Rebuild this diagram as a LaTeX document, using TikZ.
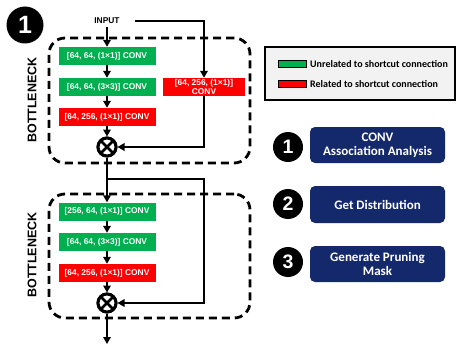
\documentclass[tikz,border=0pt]{standalone}
\usepackage{fontspec}
\setmainfont{Liberation Sans}
\newfontfamily\carlito{Carlito}
\usetikzlibrary{arrows.meta,calc}
\definecolor{cgreen}{HTML}{00B050}
\definecolor{cred}{HTML}{FF0000}
\definecolor{navy}{HTML}{14296B}
\definecolor{lblue}{HTML}{4472C4}
\definecolor{lgray}{HTML}{F2F2F2}
\begin{document}
\begin{tikzpicture}[x=1pt,y=-1pt,
  conv/.style={minimum width=97pt, minimum height=18pt, inner sep=0pt, text=white,
    font=\fontsize{8.4}{9.5}\selectfont\bfseries, align=center},
  gbox/.style={conv, fill=cgreen},
  rbox/.style={conv, fill=cred},
  line/.style={line width=2pt},
  arr/.style={line, -{Triangle[length=7pt,width=7.5pt]}},
  dashbox/.style={draw, line width=2.8pt, dash pattern=on 8pt off 5pt, rounded corners=16pt,
    minimum width=201pt, inner sep=0pt},
  otimes/.style={circle, draw, line width=3pt, minimum size=18pt, inner sep=0pt, fill=white,
    path picture={\draw[line width=2.6pt]
      (path picture bounding box.south west) -- (path picture bounding box.north east)
      (path picture bounding box.north west) -- (path picture bounding box.south east);}},
  vlabel/.style={rotate=90, font=\fontsize{12.5}{14}\selectfont\bfseries},
  numc/.style={circle, fill=black, text=white, inner sep=0pt},
  bluebox/.style={fill=navy, rounded corners=5pt, minimum width=135pt, inner sep=0pt,
    text=white, align=center, font=\carlito\fontsize{13}{14}\selectfont\bfseries},
  blockarrow/.style={draw=none, line width=8pt, lblue, -{Triangle[length=10pt,width=17pt]}},
  legtext/.style={anchor=west, inner sep=0pt, font=\carlito\fontsize{10}{11}\selectfont\bfseries}
]
\useasboundingbox (0,0) rectangle (458,345);

% big number
\node[numc, minimum size=37pt, font=\fontsize{25}{26}\selectfont\bfseries] (n0) at (25,25) {1};

% dashed bottleneck boxes
\node[dashbox, minimum height=125pt] (db1) at (149.5,100.5) {};
\node[dashbox, minimum height=124pt] (db2) at (149.5,256) {};
\node[vlabel] (bl1) at (32,100) {BOTTLENECK};
\node[vlabel] (bl2) at (32,255) {BOTTLENECK};

% input
\node[inner sep=0pt, font=\fontsize{8.4}{9.5}\selectfont\bfseries] (input) at (107,21) {INPUT};
\coordinate (inr) at (135,21);

% block 1
\node[gbox] (g1) at (107,56) {[64, 64, (1×1)] CONV};
\node[gbox] (g2) at (107,87) {[64, 64, (3×3)] CONV};
\node[rbox] (r3) at (107,117) {[64, 256, (1×1)] CONV};
\node[rbox, minimum width=82pt] (sc) at (204,87) {[64, 256, (1×1)]\\CONV};
\node[otimes] (ox1) at (107,147) {};

% block 2
\coordinate (split) at (107,179);
\coordinate (splitr) at (204,179);
\node[gbox] (g4) at (107,211.5) {[256, 64, (1×1)] CONV};
\node[gbox] (g5) at (107,242) {[64, 64, (3×3)] CONV};
\node[rbox] (r6) at (107,273) {[64, 256, (1×1)] CONV};
\node[otimes] (ox2) at (107,303) {};
\coordinate (out) at (107,344);

% connectors
\draw[arr] ([yshift=-3pt]input.south) -- (g1);
\draw[arr] (inr) -| (sc);
\draw[arr] (g1) -- (g2);
\draw[arr] (g2) -- (r3);
\draw[arr] (r3) -- (ox1);
\draw[arr] (sc) |- (ox1);
\draw[line] (ox1) -- (split);
\draw[arr] (split) -- (g4);
\draw[arr] (split) -- (splitr) |- (ox2);
\draw[arr] (g4) -- (g5);
\draw[arr] (g5) -- (r6);
\draw[arr] (r6) -- (ox2);
\draw[arr] (ox2) -- (out);
\node[otimes] at (ox1) {};
\node[otimes] at (ox2) {};

% legend
\node[draw, fill=lgray, line width=2pt, minimum width=190pt, minimum height=53pt, inner sep=0pt] (leg) at (360,73.5) {};
\node[draw, fill=cgreen, line width=0.8pt, minimum width=28pt, minimum height=6.5pt, inner sep=0pt] (sw1) at (292,64) {};
\node[draw, fill=cred, line width=0.8pt, minimum width=28pt, minimum height=6.5pt, inner sep=0pt] (sw2) at (292,84) {};
\node[legtext] (lt1) at (310,64) {Unrelated to shortcut connection};
\node[legtext] (lt2) at (310,84) {Related to shortcut connection};

% right flow
\node[bluebox, minimum height=36pt] (b1) at (377.5,145) {CONV\\Association Analysis};
\node[bluebox, minimum height=37pt] (b2) at (377.5,204.5) {Get Distribution};
\node[bluebox, minimum height=36pt] (b3) at (377.5,264) {Generate Pruning\\Mask};
\node[numc, minimum size=30pt, font=\fontsize{19.5}{21}\selectfont\bfseries] (n1) at (288,147) {1};
\node[numc, minimum size=30pt, font=\fontsize{19.5}{21}\selectfont\bfseries] (n2) at (288,204) {2};
\node[numc, minimum size=30pt, font=\fontsize{19.5}{21}\selectfont\bfseries] (n3) at (288,262) {3};
\draw[blockarrow, shorten <=2pt, shorten >=4pt] (b1) -- (b2);
\draw[blockarrow, shorten <=3pt, shorten >=4pt] (b2) -- (b3);
\end{tikzpicture}
\end{document}
